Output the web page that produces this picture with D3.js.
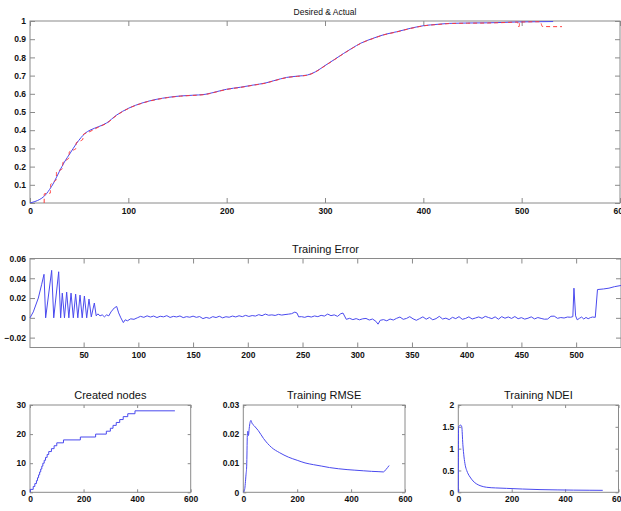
<!DOCTYPE html>
<html>
<head>
<meta charset="utf-8">
<script src="https://cdn.jsdelivr.net/npm/d3@7/dist/d3.min.js"></script>
<style>
  html, body { margin: 0; padding: 0; background: #fff; }
  svg { display: block; font-family: "Liberation Sans", Arial, sans-serif; }
  .tick text { font-size: 8.5px; font-weight: bold; fill: #111; }
  .tick line { stroke: #8a8a8a; }
  .frame { fill: none; stroke: #8a8a8a; stroke-width: 1; }
  .title { fill: #111; text-anchor: middle; }
</style>
</head>
<body>
<svg id="chart" width="621" height="511"></svg>
<script>
// ---- Desired & Actual ----
const actualX = [0, 5, 10, 14, 20, 24, 30, 35, 41, 47, 52, 56, 61, 70, 78, 88, 100, 115, 129, 140, 153, 165, 178, 190, 200, 214, 227, 240, 248, 261, 272, 282, 290, 300, 310, 319, 328, 336, 349, 360, 373, 387, 400, 415, 427, 445, 465, 480, 498, 515, 532];
const actualY = [0, 0.008, 0.02, 0.035, 0.075, 0.11, 0.175, 0.225, 0.275, 0.325, 0.36, 0.383, 0.40, 0.42, 0.44, 0.483, 0.52, 0.551, 0.57, 0.58, 0.588, 0.592, 0.597, 0.612, 0.625, 0.636, 0.648, 0.66, 0.672, 0.69, 0.697, 0.703, 0.72, 0.755, 0.79, 0.822, 0.852, 0.877, 0.905, 0.925, 0.941, 0.96, 0.974, 0.982, 0.987, 0.989, 0.99, 0.992, 0.995, 0.996, 0.997];

const desiredX = [14.4, 14.5, 20.8, 20.9, 26.8, 26.9, 33.2, 33.3, 39.8, 39.9, 46.8, 46.9, 53.8, 53.9, 60, 70, 78, 88, 100, 115, 129, 140, 153, 165, 178, 190, 200, 214, 227, 240, 248, 261, 272, 282, 290, 300, 310, 319, 328, 336, 349, 360, 373, 387, 400, 415, 427, 445, 465, 480, 496, 496.5, 497.5, 498, 519, 521, 530, 541];
const desiredY = [0, 0.05, 0.055, 0.10, 0.13, 0.17, 0.19, 0.22, 0.25, 0.28, 0.30, 0.33, 0.35, 0.375, 0.39, 0.418, 0.438, 0.481, 0.519, 0.55, 0.569, 0.579, 0.587, 0.591, 0.596, 0.611, 0.624, 0.635, 0.647, 0.659, 0.671, 0.689, 0.696, 0.702, 0.719, 0.754, 0.789, 0.821, 0.851, 0.876, 0.904, 0.924, 0.94, 0.959, 0.973, 0.981, 0.986, 0.988, 0.989, 0.991, 0.994, 0.97, 0.97, 0.994, 0.996, 0.97, 0.969, 0.969];

// ---- Training Error ----
const errX = [1, 4, 8.6, 11.7, 13.8, 15.3, 20.8, 22.7, 27.2, 29, 30.5, 32.5, 34.5, 36.5, 38.5, 40.6, 42.7, 44.7, 46.7, 48.7, 50.7, 52.8, 54.9, 57, 59.8, 61.5, 63, 65, 67, 69, 71, 73, 75, 78, 80.2, 82, 84, 86.3, 88, 90, 93, 96,
  99, 102, 105, 108, 111, 114, 117, 120, 123, 126, 129, 132, 135, 138, 141, 144, 147, 150, 153, 156, 159, 162, 165, 168, 171, 174, 177, 180, 183, 186, 189, 192, 195, 198, 201, 204, 207, 210, 213, 216, 219, 222, 225, 228, 231, 234, 237, 240, 243, 245, 246.5,
  249, 252, 255, 258, 261, 264, 267, 270, 273, 276, 279, 282, 285, 287, 290, 293, 296, 299, 302, 305, 308, 311, 314, 317, 319, 321, 324, 327, 330, 333, 336, 339, 342, 345, 348, 351, 354, 357, 360, 363, 366, 369, 372, 375, 378, 381, 384, 387, 390, 393, 396, 399,
  402, 405, 408, 411, 414, 417, 420, 423, 426, 429, 432, 435, 438, 441, 444, 447, 450, 453, 456, 459, 462, 465, 468, 471, 474, 477, 480, 483, 486, 489, 492, 495, 497, 498, 499.5, 501, 503, 505, 507, 509, 511, 513, 515, 517.5, 519.5, 525, 530, 535, 541];
const errY = [0, 0.006, 0.02, 0.034, 0.044, 0, 0.048, 0, 0.0466, 0, 0.025, 0, 0.026, 0, 0.025, 0, 0.024, 0, 0.023, 0, 0.022, 0, 0.019, 0.001, 0.015, 0.002, 0.004, 0.002, 0.003, 0.001, 0.003, 0.002, 0.006, 0.010, 0.0115, 0.005, 0, -0.0048, -0.002, -0.003, -0.001, -0.0015,
  0, 0.0015, 0.0005, 0.002, 0.0008, 0.0018, 0.0003, 0.0016, 0.001, 0.0022, 0.0004, 0.0015, 0.0009, 0.0019, 0.0002, 0.0012, 0.0006, 0.0017, 0.0005, 0.0013, -0.0008, 0.0004, -0.0005, 0.0012, 0.0003, 0.0016, 0, 0.0011, 0.0006, 0.0018, 0.0009, 0.0021, 0.0012, 0.0025, 0.0014, 0.0023, 0.0018, 0.0032, 0.0022, 0.0038, 0.0026, 0.003, 0.0024, 0.0035, 0.0028, 0.0033, 0.0037, 0.0042, 0.0058, 0.0048, 0.001,
  0.0012, 0.0005, 0.0016, 0.0008, 0.0019, 0.0012, 0.0025, 0.0018, 0.0038, 0.0022, 0.003, 0.0015, 0.0042, 0.0048, -0.0015, -0.0005, -0.0018, -0.0008, -0.002, -0.001, -0.0006, -0.0022, -0.0012, -0.0035, -0.0064, -0.0025, -0.0018, -0.003, -0.0012, -0.0022, -0.0005, 0.0008, -0.0015, -0.0006, 0.0012, -0.001, -0.0025, -0.0008, 0.001, -0.0014, 0.0004, -0.002, -0.0008, 0.0015, -0.0012, -0.0003, -0.0018, 0.0005, -0.0008, 0.0012, -0.0015, -0.0006,
  0.001, -0.0012, -0.0002, 0.0009, -0.0005, 0.0015, 0.0003, -0.0008, 0.001, -0.0014, 0.0012, -0.0004, 0.0009, -0.0006, 0.0013, -0.0009, 0.0002, -0.0013, -0.0004, 0.001, -0.0011, 0.0003, -0.0006, -0.0014, -0.0012, 0.0016, 0.0017, -0.0005, 0.0003, -0.0002, 0.0008, 0.0006, 0.0012, 0.030, 0.002, -0.002, -0.0005, 0.0008, -0.0012, 0.0004, -0.0009, 0.0002, 0.0008, 0.0005, 0.0286, 0.0292, 0.030, 0.0315, 0.0327];

// ---- Created nodes (step counts) ----
const nodesX = [0, 1, 12, 18, 24, 28, 32, 36, 40, 44, 48, 53, 58, 64, 70, 80, 90, 100, 125, 188, 245, 285, 300, 310, 322, 335, 348, 365, 392, 541];
const nodesY = [0, 1, 2, 3, 4, 5, 6, 7, 8, 9, 10, 11, 12, 13, 14, 15, 16, 17, 18, 19, 20, 21, 22, 23, 24, 25, 26, 27, 28, 28];

// ---- Training RMSE ----
const rmseX = [0, 5, 10, 12.6, 15, 17, 19, 22, 25, 28.6, 32, 40, 55.7, 75, 105, 135, 167, 200, 229, 260, 291, 320, 352.6, 385, 414, 445, 476, 500, 519.6, 530, 541];
const rmseY = [0, 0.001, 0.006, 0.009, 0.0195, 0.021, 0.0195, 0.022, 0.024, 0.0247, 0.0238, 0.0229, 0.0212, 0.0185, 0.0154, 0.0136, 0.0121, 0.011, 0.0101, 0.0095, 0.009, 0.0085, 0.0081, 0.0078, 0.0076, 0.0074, 0.0072, 0.0071, 0.007, 0.0079, 0.0092];

// ---- Training NDEI ----
const ndeiX = [0, 0.5, 1, 9, 13, 17, 21.4, 26, 31.5, 37, 44, 55, 69, 85, 106, 140, 181, 240, 306, 370, 431, 490, 541];
const ndeiY = [0, 1.0, 1.5, 1.54, 1.5, 1.1, 0.81, 0.62, 0.50, 0.42, 0.35, 0.26, 0.19, 0.145, 0.115, 0.1, 0.09, 0.075, 0.062, 0.055, 0.05, 0.047, 0.045];

// ---- Tick values ----
const topXTicks = [0, 100, 200, 300, 400, 500, 600];
const topYTicks = [0, 0.1, 0.2, 0.3, 0.4, 0.5, 0.6, 0.7, 0.8, 0.9, 1];
const errXTicks = [50, 100, 150, 200, 250, 300, 350, 400, 450, 500];
const errYTicks = [-0.02, 0, 0.02, 0.04, 0.06];
const smallXTicks = [0, 200, 400, 600];
const nodesYTicks = [0, 10, 20, 30];
const rmseYTicks = [0, 0.01, 0.02, 0.03];
const ndeiYTicks = [0, 0.5, 1, 1.5, 2];

const BLUE = "#4a4aee";
const RED = "#ff3b3b";
const svg = d3.select("#chart");
let panelCount = 0;

function fmt(v) {
  if (v === 0) return "0";
  return String(+v.toFixed(4)).replace("-", "\u2212");
}

function panel(o) {
  const x = d3.scaleLinear().domain(o.xDomain).range([o.left, o.right]);
  const y = d3.scaleLinear().domain(o.yDomain).range([o.bottom, o.top]);
  const g = svg.append("g");
  const tl = o.tickLen;

  g.append("g").attr("transform", `translate(0,${o.bottom})`)
    .call(d3.axisBottom(x).tickValues(o.xTicks).tickSizeInner(-tl).tickSizeOuter(0).tickPadding(o.xPad).tickFormat(fmt))
    .call(a => a.select(".domain").remove());
  g.append("g").attr("transform", `translate(0,${o.top})`)
    .call(d3.axisTop(x).tickValues(o.xTicks).tickSizeInner(-tl).tickSizeOuter(0).tickFormat(""))
    .call(a => a.select(".domain").remove());
  g.append("g").attr("transform", `translate(${o.left},0)`)
    .call(d3.axisLeft(y).tickValues(o.yTicks).tickSizeInner(-tl).tickSizeOuter(0).tickPadding(o.yPad).tickFormat(fmt))
    .call(a => a.select(".domain").remove());
  g.append("g").attr("transform", `translate(${o.right},0)`)
    .call(d3.axisRight(y).tickValues(o.yTicks).tickSizeInner(-tl).tickSizeOuter(0).tickFormat(""))
    .call(a => a.select(".domain").remove());

  g.append("rect").attr("class", "frame")
    .attr("x", o.left).attr("y", o.top)
    .attr("width", o.right - o.left).attr("height", o.bottom - o.top);

  g.append("text").attr("class", "title")
    .attr("x", (o.left + o.right) / 2).attr("y", o.titleY)
    .attr("font-size", o.titleSize).text(o.title);

  const clipId = "plot-clip-" + (panelCount++);
  svg.append("clipPath").attr("id", clipId).append("rect")
    .attr("x", o.left - 1).attr("y", o.top - 2)
    .attr("width", o.right - o.left + 1).attr("height", o.bottom - o.top + 2);

  const layer = g.append("g").attr("clip-path", `url(#${clipId})`);
  o.series.forEach(s => {
    const pts = s.xs.map((v, i) => [v, s.ys[i]]);
    const line = d3.line().x(d => x(d[0])).y(d => y(d[1])).curve(s.curve || d3.curveLinear);
    layer.append("path").attr("d", line(pts))
      .attr("fill", "none").attr("stroke", s.color)
      .attr("stroke-width", s.width || 1)
      .attr("stroke-dasharray", s.dash || null)
      .attr("stroke-linejoin", "round");
  });
}

panel({
  left: 30, right: 620, top: 21, bottom: 203,
  xDomain: [0, 600], yDomain: [0, 1],
  xTicks: topXTicks, yTicks: topYTicks, tickLen: 5, xPad: 5, yPad: 4,
  title: "Desired & Actual", titleY: 14.5, titleSize: "8.5px",
  series: [
    { xs: actualX, ys: actualY, color: BLUE, curve: d3.curveMonotoneX },
    { xs: desiredX, ys: desiredY, color: RED, dash: "4,3", curve: d3.curveMonotoneX }
  ]
});

panel({
  left: 30, right: 621, top: 258.5, bottom: 347.5,
  xDomain: [1, 541], yDomain: [-0.03, 0.06],
  xTicks: errXTicks, yTicks: errYTicks, tickLen: 5, xPad: 4.5, yPad: 4,
  title: "Training Error", titleY: 252.7, titleSize: "11px",
  series: [ { xs: errX, ys: errY, color: BLUE } ]
});

panel({
  left: 30, right: 190.7, top: 405, bottom: 492.3,
  xDomain: [0, 600], yDomain: [0, 30],
  xTicks: smallXTicks, yTicks: nodesYTicks, tickLen: 3, xPad: 4, yPad: 4,
  title: "Created nodes", titleY: 399.3, titleSize: "11px",
  series: [ { xs: nodesX, ys: nodesY, color: BLUE, curve: d3.curveStepAfter } ]
});

panel({
  left: 243.3, right: 405, top: 405, bottom: 492.3,
  xDomain: [0, 600], yDomain: [0, 0.03],
  xTicks: smallXTicks, yTicks: rmseYTicks, tickLen: 3, xPad: 4, yPad: 4,
  title: "Training RMSE", titleY: 399.3, titleSize: "11px",
  series: [ { xs: rmseX, ys: rmseY, color: BLUE, curve: d3.curveMonotoneX } ]
});

panel({
  left: 458.3, right: 618.5, top: 405, bottom: 492.3,
  xDomain: [0, 600], yDomain: [0, 2],
  xTicks: smallXTicks, yTicks: ndeiYTicks, tickLen: 3, xPad: 4, yPad: 4,
  title: "Training NDEI", titleY: 399.3, titleSize: "11px",
  series: [ { xs: ndeiX, ys: ndeiY, color: BLUE, curve: d3.curveMonotoneX } ]
});
</script>
</body>
</html>
